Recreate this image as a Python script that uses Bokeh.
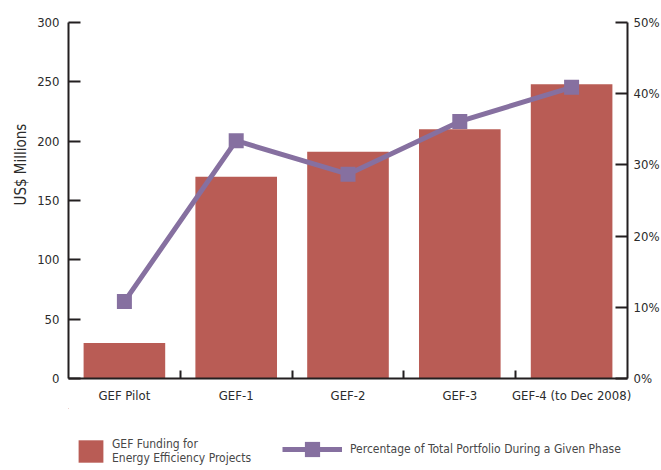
from bokeh.plotting import figure
from bokeh.layouts import column
from bokeh.models import (Range1d, LinearAxis, FixedTicker, PrintfTickFormatter,
                          Legend, LegendItem, Title)
from bokeh.embed import file_html
from bokeh.resources import INLINE

# ---- data ----
categories = ["GEF Pilot", "GEF-1", "GEF-2", "GEF-3", "GEF-4 (to Dec 2008)"]
funding_musd = [30, 170, 191, 210, 248]
portfolio_pct = [10.8, 33.4, 28.7, 36.1, 40.9]
left_ticks = [0, 50, 100, 150, 200, 250, 300]
right_ticks = [0, 10, 20, 30, 40, 50]
y_title = "US$ Millions"
bar_label = "GEF Funding for\nEnergy Efficiency Projects"
line_label = "Percentage of Total Portfolio During a Given Phase"

BAR = "#B95C55"
LINE = "#8670A0"
AXIS = "#231F20"
TEXT = "#2b2b2b"
LEG_TEXT = "#474747"
FONT = "'Liberation Sans Narrow', 'DejaVu Sans Condensed', 'Roboto Condensed', Roboto, sans-serif"

n = len(categories)
xs = [i + 0.5 for i in range(n)]
bounds = [float(i) for i in range(1, n)]

p = figure(frame_width=559, frame_height=356, output_backend="svg",
           toolbar_location=None,
           x_range=Range1d(0, n), y_range=Range1d(left_ticks[0], left_ticks[-1]),
           x_axis_location=None, y_axis_location=None,
           min_border_left=68, min_border_right=34, min_border_top=22,
           min_border_bottom=30)
p.extra_y_ranges = {"pct": Range1d(right_ticks[0], right_ticks[-1])}
p.outline_line_color = None
p.xgrid.visible = False
p.ygrid.visible = False

p.vbar(x=xs, top=funding_musd, width=0.73, fill_color=BAR, line_color=None)
p.line(xs, portfolio_pct, y_range_name="pct", line_color=LINE, line_width=5)
p.scatter(xs, portfolio_pct, y_range_name="pct", marker="square", size=15,
          fill_color=LINE, line_color=None)

def style(ax, size="13px"):
    ax.axis_line_color = AXIS
    ax.axis_line_width = 2
    ax.major_tick_line_color = AXIS
    ax.major_tick_line_width = 2
    ax.minor_tick_line_color = AXIS
    ax.minor_tick_line_width = 2
    ax.major_label_text_font = FONT
    ax.major_label_text_font_size = size
    ax.major_label_text_color = TEXT

xax = LinearAxis(ticker=FixedTicker(ticks=xs, minor_ticks=bounds),
                 major_label_overrides={x: c for x, c in zip(xs, categories)})
style(xax)
xax.major_tick_in = 0
xax.major_tick_out = 0
xax.minor_tick_in = 8
xax.minor_tick_out = 0
xax.major_label_standoff = 9
p.add_layout(xax, "below")

lax = LinearAxis(ticker=FixedTicker(ticks=left_ticks))
style(lax)
lax.major_tick_in = 12
lax.major_tick_out = 0
lax.minor_tick_line_color = None
lax.major_label_standoff = 9
p.add_layout(lax, "left")

rax = LinearAxis(y_range_name="pct", ticker=FixedTicker(ticks=right_ticks),
                 formatter=PrintfTickFormatter(format="%d%%"))
style(rax)
rax.major_tick_in = 12
rax.major_tick_out = 0
rax.minor_tick_line_color = None
rax.major_label_standoff = 6
p.add_layout(rax, "right")

p.add_layout(Title(text=y_title, align="left", offset=173, text_font=FONT,
                   text_font_size="15px", text_font_style="normal",
                   text_color=TEXT, standoff=9), "left")

# ---- legend strip (legend glyphs use the same series, kept far out of view) ----
lf = figure(width=661, height=62, output_backend="svg", toolbar_location=None,
            x_range=Range1d(1000, 1001), y_range=Range1d(-1001, -1000),
            min_border_left=0, min_border_right=0, min_border_top=0,
            min_border_bottom=0, x_axis_location=None, y_axis_location=None)
lf.outline_line_color = None
lf.xgrid.visible = False
lf.ygrid.visible = False
lbar = lf.vbar(x=xs, top=funding_musd, width=0.73, fill_color=BAR, line_color=None)
lline = lf.line(xs, portfolio_pct, line_color=LINE, line_width=5)
lsq = lf.scatter(xs, portfolio_pct, marker="square", size=15, fill_color=LINE,
                 line_color=None)

def legend(items, loc, gw, gh, standoff):
    lg = Legend(items=items, location=loc, orientation="horizontal",
                glyph_width=gw, glyph_height=gh, label_standoff=standoff,
                padding=0, margin=0, spacing=0, border_line_color=None,
                background_fill_alpha=0, label_text_font=FONT,
                label_text_font_size="12px", label_text_color=LEG_TEXT,
                label_height=gh)
    lf.add_layout(lg, "center")

legend([LegendItem(label=bar_label, renderers=[lbar])], (7, 5), 31, 28, 6)
legend([LegendItem(label=line_label, renderers=[lline, lsq])], (214, 2), 60, 38, 8)

open("out.html", "w").write(file_html(column(p, lf, spacing=0), INLINE))
